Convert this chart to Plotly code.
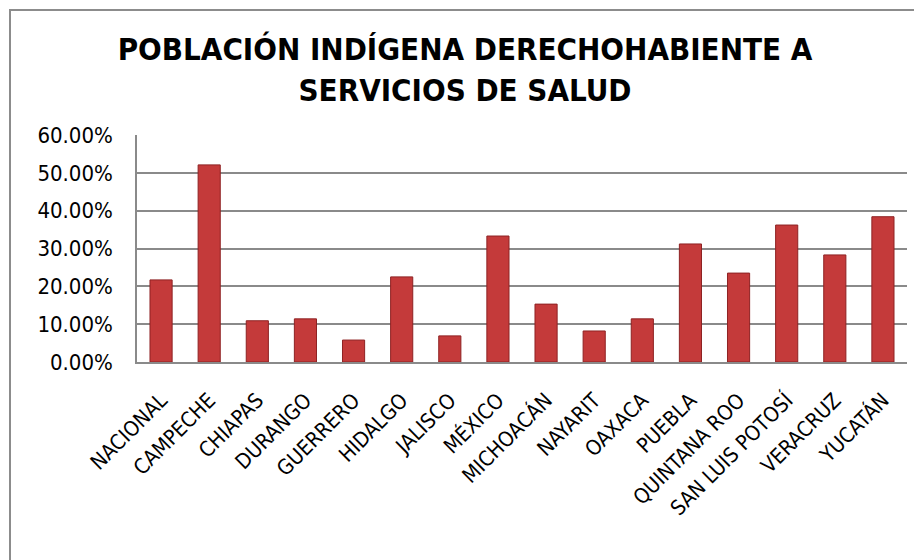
import plotly.graph_objects as go

categories = ["NACIONAL", "CAMPECHE", "CHIAPAS", "DURANGO", "GUERRERO", "HIDALGO",
              "JALISCO", "MÉXICO", "MICHOACÁN", "NAYARIT", "OAXACA", "PUEBLA",
              "QUINTANA ROO", "SAN LUIS POTOSÍ", "VERACRUZ", "YUCATÁN"]
values = [0.217, 0.521, 0.109, 0.114, 0.058, 0.225, 0.069, 0.333, 0.153, 0.082,
          0.114, 0.312, 0.235, 0.362, 0.283, 0.384]
y_ticks = [0, 0.1, 0.2, 0.3, 0.4, 0.5, 0.6]

# page body adds an 8px offset; figure coords = reference coords - 8
W, H = 914, 552
L, R, T, B = 129, 899, 127, 354

fig = go.Figure()
fig.add_trace(go.Bar(
    x=categories, y=values,
    marker=dict(color="#C43A3A", line=dict(color="#8E2223", width=1)),
    width=0.46,
))

grid = "#8a8a8a"
fig.update_layout(
    width=W, height=H,
    margin=dict(l=L, r=W - R, t=T, b=H - B, autoexpand=False),
    paper_bgcolor="white", plot_bgcolor="white",
    showlegend=False,
    title=dict(
        text="POBLACIÓN INDÍGENA DERECHOHABIENTE A<br>SERVICIOS DE SALUD",
        x=0.5, xanchor="center", xref="container",
        y=0.905, yanchor="top", yref="container",
        font=dict(family="DejaVu Sans Condensed, DejaVu Sans", size=31, color="black", weight="bold"),
    ),
    xaxis=dict(
        tickangle=-45, tickfont=dict(family="DejaVu Sans Condensed, DejaVu Sans", size=21, color="black"),
        showline=True, linecolor=grid, linewidth=1.5, ticks="", showgrid=False,
        ticklabelstandoff=16,
    ),
    yaxis=dict(
        range=[0, 0.6], tickvals=y_ticks, tickformat=".2%",
        tickfont=dict(family="DejaVu Sans Condensed, DejaVu Sans", size=22, color="black"),
        showgrid=True, gridcolor=grid, gridwidth=1.5,
        showline=True, linecolor=grid, linewidth=1.5, ticks="",
        ticklabelstandoff=18, zeroline=False,
    ),
    shapes=[dict(type="rect", xref="paper", yref="paper",
                 x0=(2 - L) / (R - L), x1=(W + 20 - L) / (R - L),
                 y0=(B - H - 20) / (B - T), y1=(B - 2) / (B - T),
                 line=dict(color="#8c8c8c", width=2), fillcolor="rgba(0,0,0,0)",
                 layer="below")],
)

fig.write_html("out.html")
